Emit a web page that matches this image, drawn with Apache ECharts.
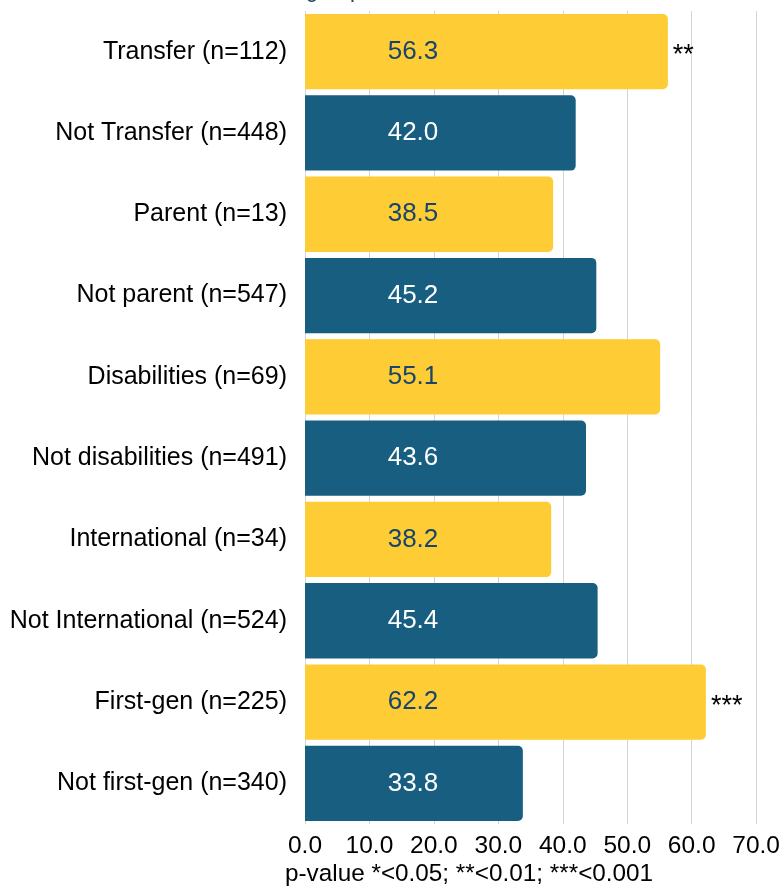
<!DOCTYPE html>
<html><head><meta charset="utf-8">
<script src="https://cdn.jsdelivr.net/npm/echarts@6/dist/echarts.min.js"></script>
<style>html,body{margin:0;padding:0;background:#fff}#c{width:783px;height:886px}</style>
</head><body><div id="c"></div>
<script>
var categories = ["Transfer (n=112)","Not Transfer (n=448)","Parent (n=13)","Not parent (n=547)","Disabilities (n=69)","Not disabilities (n=491)","International (n=34)","Not International (n=524)","First-gen (n=225)","Not first-gen (n=340)"];
var values = [56.3, 42.0, 38.5, 45.2, 55.1, 43.6, 38.2, 45.4, 62.2, 33.8];
var stars = ["**","","","","","","","","***",""];
var xTicks = [0,10,20,30,40,50,60,70];
var YELLOW = "#FECC35", BLUE = "#175E80";
var FONT = "Liberation Sans, Arial, sans-serif";

var chart = echarts.init(document.getElementById('c'), null, {renderer:'canvas'});
var barData = values.map(function(v,i){
  var isY = i % 2 === 0;
  return {value: v, itemStyle:{color: isY ? YELLOW : BLUE},
    label:{color: isY ? "#17456B" : "#FFFFFF"}};
});
chart.setOption({
  animation:false,
  grid:{left:305, right:25, top:11, bottom:62, containLabel:false},
  xAxis:{type:'value', min:xTicks[0], max:xTicks[xTicks.length-1], interval:10,
    axisLine:{show:false}, axisTick:{show:false},
    splitLine:{show:true, lineStyle:{color:'#d4d4d4', width:1}},
    axisLabel:{fontFamily:FONT, fontSize:24.5, color:'#000', margin:10,
      formatter:function(v){return v.toFixed(1);}}},
  yAxis:{type:'category', data:categories, inverse:true,
    axisLine:{show:false}, axisTick:{show:false}, splitLine:{show:false},
    axisLabel:{fontFamily:FONT, fontSize:25, color:'#000', margin:18}},
  series:[
    {type:'bar', data:barData, barCategoryGap:'7.4%',
     itemStyle:{borderRadius:[0,5,5,0]},
     label:{show:true, position:[108,'50%'], align:'center', verticalAlign:'middle',
       fontFamily:FONT, fontSize:26, formatter:function(p){return p.value.toFixed(1);}}},
    {type:'bar', data:values, barGap:'-100%', barCategoryGap:'7.4%',
     itemStyle:{color:'rgba(0,0,0,0)'}, silent:true,
     label:{show:true, position:'right', distance:5, offset:[0,4], color:'#000', fontFamily:FONT, fontSize:27,
       formatter:function(p){return stars[p.dataIndex];}}}
  ],
  graphic:[
    {type:'text', left:285, top:862, style:{text:'p-value *<0.05; **<0.01; ***<0.001', fontFamily:FONT, fontSize:24.3, fill:'#000'}},
    {type:'text', x:306, y:-20, style:{text:'group', fontFamily:FONT, fontSize:22, fill:'#17456B'}}
  ]
});
</script></body></html>
